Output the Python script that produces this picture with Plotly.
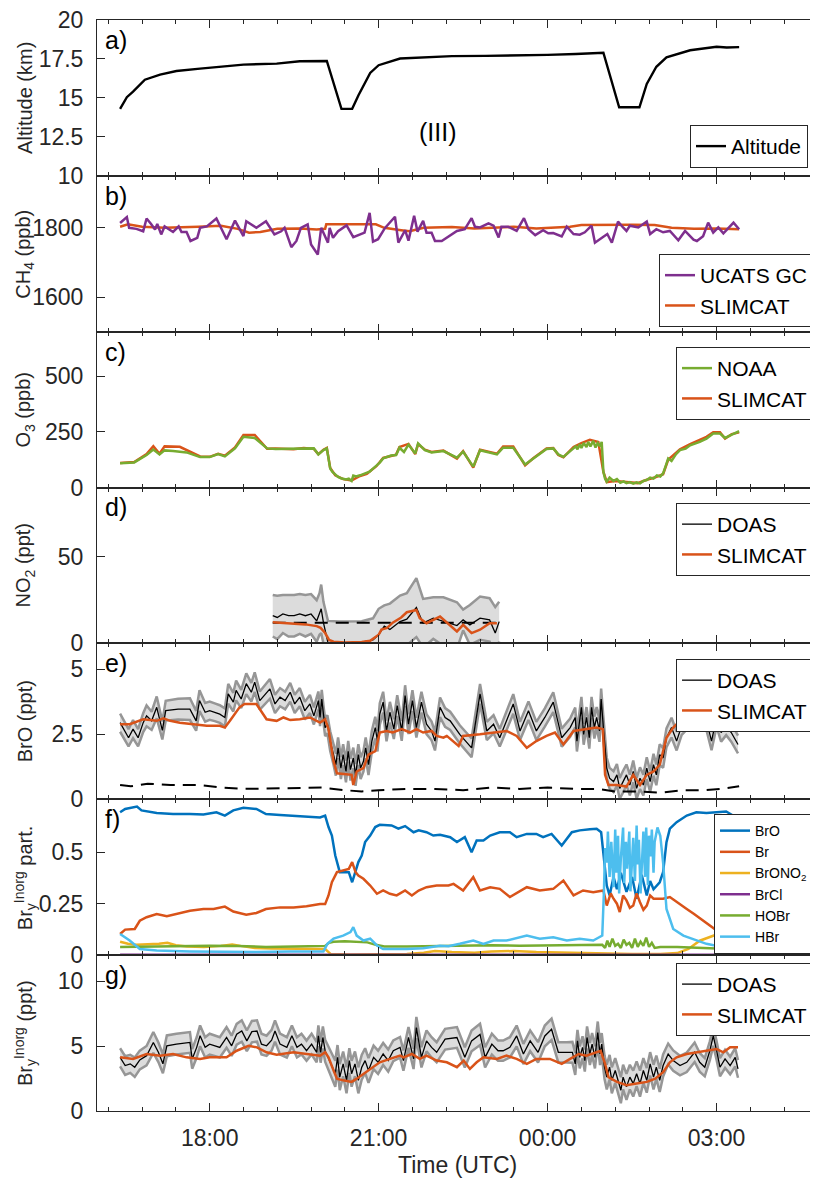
import plotly.graph_objects as go
from plotly.subplots import make_subplots

# ---------------- data (time in hours since 00:00 of day 1; >24 = next day) ----------------
ALT_T = [16.41, 16.53, 16.64, 16.85, 17.12, 17.41, 17.83, 18.13, 18.6, 19.19, 19.6, 20.08, 20.34, 20.53, 20.64,
         20.85, 21.0, 21.38, 21.8, 22.3, 22.9, 23.5, 24.0, 24.5, 24.99, 25.27, 25.63, 25.76, 25.93, 26.11, 26.53,
         27.0, 27.18, 27.4]
ALT_V = [14.3, 15.05, 15.4, 16.17, 16.5, 16.73, 16.88, 16.99, 17.14, 17.2, 17.35, 17.37, 14.3, 14.3, 15.16,
         16.6, 17.1, 17.53, 17.62, 17.68, 17.7, 17.72, 17.76, 17.82, 17.9, 14.4, 14.4, 15.9, 17.0, 17.6, 18.06,
         18.28, 18.24, 18.26]

UC_T = [16.41, 16.53, 16.57, 16.7, 16.82, 16.88, 16.96, 17.03, 17.07, 17.14, 17.2, 17.29, 17.35, 17.45, 17.5,
        17.59, 17.66, 17.78, 17.83, 17.95, 18.12, 18.3, 18.45, 18.6, 18.65, 18.83, 19.0, 19.15, 19.27, 19.33,
        19.45, 19.54, 19.62, 19.74, 19.8, 19.92, 19.98, 20.1, 20.13, 20.19, 20.28, 20.43, 20.55, 20.75, 20.84,
        20.9, 20.99, 21.11, 21.29, 21.35, 21.47, 21.53, 21.63, 21.69, 21.79, 21.85, 21.94, 22.0, 22.12, 22.39,
        22.53, 22.65, 22.71, 22.8, 22.95, 23.04, 23.13, 23.18, 23.3, 23.45, 23.58, 23.66, 23.78, 23.92, 24.01,
        24.1, 24.25, 24.34, 24.46, 24.57, 24.66, 24.78, 24.84, 24.99, 25.06, 25.14, 25.25, 25.34, 25.4, 25.46,
        25.61, 25.76, 25.82, 25.93, 26.05, 26.17, 26.32, 26.44, 26.59, 26.65, 26.76, 26.85, 26.94, 27.03, 27.12,
        27.3, 27.4]
UC_V = [1814, 1831, 1800, 1797, 1790, 1827, 1811, 1795, 1811, 1781, 1804, 1795, 1788, 1804, 1788,
        1788, 1762, 1771, 1800, 1804, 1827, 1767, 1821, 1776, 1819, 1800, 1819, 1781, 1790, 1800,
        1744, 1762, 1800, 1810, 1752, 1723, 1800, 1757, 1800, 1771, 1790, 1807, 1773, 1786, 1843,
        1760, 1767, 1799, 1832, 1757, 1793, 1763, 1835, 1789, 1820, 1786, 1786, 1762, 1762, 1791,
        1796, 1828, 1803, 1801, 1813, 1806, 1772, 1803, 1803, 1791, 1828, 1796, 1779, 1793, 1784,
        1785, 1775, 1803, 1782, 1780, 1787, 1806, 1757, 1774, 1782, 1757, 1818, 1801, 1791, 1806,
        1801, 1818, 1782, 1796, 1787, 1791, 1764, 1791, 1766, 1762, 1776, 1815, 1786, 1801, 1784,
        1815, 1796]

SC_CH4_T = [16.41, 16.55, 16.8, 17.2, 17.8, 18.2, 18.5, 18.7, 18.9, 19.2, 19.6, 19.9, 20.05, 20.07, 20.95, 21.1,
            21.4, 21.55, 21.8, 22.3, 22.7, 23.1, 23.4, 23.8, 24.1, 24.4, 24.6, 25.0, 25.5, 25.9, 26.2, 26.6,
            27.0, 27.4]
SC_CH4_V = [1803, 1810, 1803, 1800, 1803, 1806, 1797, 1786, 1788, 1797, 1798, 1795, 1797, 1810, 1810, 1800,
            1793, 1790, 1800, 1802, 1798, 1800, 1803, 1798, 1800, 1803, 1808, 1809, 1809, 1808, 1800, 1797,
            1798, 1796]

O3_T = [16.41, 16.66, 16.88, 17.0, 17.11, 17.2, 17.35, 17.59, 17.83, 18.0,
        18.15, 18.27, 18.45, 18.6, 18.8, 19.02, 19.17, 19.49, 19.67, 19.85,
        19.93, 20.02, 20.08, 20.14, 20.18, 20.23, 20.28, 20.33, 20.37, 20.42,
        20.47, 20.52, 20.55, 20.6, 20.67, 20.72, 20.79, 20.84, 20.9, 20.96,
        21.02, 21.08, 21.15, 21.22, 21.31, 21.37, 21.45, 21.53, 21.65, 21.7,
        21.82, 21.94, 22.15, 22.39, 22.5, 22.68, 22.8, 23.1, 23.21, 23.39,
        23.6, 23.75, 23.98, 24.1, 24.19, 24.28, 24.46, 24.5, 24.53, 24.57,
        24.6, 24.64, 24.69, 24.72, 24.76, 24.81, 24.85, 24.89, 24.93, 24.96,
        24.99, 25.02, 25.05, 25.1, 25.17, 25.23, 25.29, 25.35, 25.4, 25.46,
        25.52, 25.58, 25.64, 25.7, 25.76, 25.82, 25.88, 25.94, 26.0, 26.05,
        26.1, 26.14, 26.2, 26.28, 26.35, 26.45, 26.53, 26.7, 26.82, 26.94,
        27.06, 27.15, 27.27, 27.4]
O3_V = [109, 113, 146, 171, 149, 167, 164, 158, 137, 137,
        150, 140, 176, 228, 223, 176, 173, 173, 176, 176,
        149, 168, 176, 86, 70, 57, 48, 42, 39, 36,
        40, 30, 54, 50, 55, 60, 64, 72, 85, 98,
        112, 131, 138, 144, 146, 179, 160, 193, 153, 198,
        168, 158, 164, 134, 161, 94, 168, 149, 179, 179,
        104, 131, 173, 176, 149, 138, 179, 185, 172, 195,
        178, 200, 182, 205, 185, 210, 180, 200, 185, 205,
        71, 40, 27, 45, 30, 38, 22, 28, 20, 25,
        18, 24, 19, 30, 34, 45, 40, 55, 50, 64,
        100, 131, 120, 150, 168, 175, 190, 205, 220, 243,
        243, 223, 238, 253]

SC_O3_T = [16.41, 16.66, 16.88, 17.0, 17.11, 17.2, 17.47, 17.83, 18.0, 18.15, 18.27, 18.45, 18.6, 18.8, 19.02,
           19.17, 19.49, 19.67, 19.85, 19.93, 20.02, 20.08, 20.14, 20.23, 20.37, 20.52, 20.67, 20.79, 20.96,
           21.08, 21.31, 21.37, 21.53, 21.65, 21.7, 21.82, 21.94, 22.15, 22.39, 22.5, 22.68, 22.8, 23.1, 23.21,
           23.39, 23.6, 23.75, 23.98, 24.1, 24.19, 24.28, 24.46, 24.6, 24.75, 24.9, 24.99, 25.05, 25.2, 25.4,
           25.6, 25.76, 25.9, 26.05, 26.14, 26.35, 26.53, 26.82, 26.94, 27.06, 27.15, 27.27, 27.4]
SC_O3_V = [110, 115, 150, 186, 152, 185, 183, 140, 138, 152, 143, 180, 236, 236, 174,
           176, 172, 178, 174, 150, 170, 178, 88, 55, 38, 32, 52, 62, 96,
           133, 148, 182, 196, 150, 195, 170, 160, 166, 130, 164, 90, 170, 152, 185,
           185, 100, 133, 176, 178, 146, 136, 182, 200, 215, 205, 70, 25, 30, 25,
           20, 35, 45, 60, 125, 172, 195, 228, 248, 248, 220, 240, 248]

NO2_T = [19.12, 19.2, 19.3, 19.4, 19.5, 19.6, 19.7, 19.8, 19.9, 19.95, 19.98, 20.02, 20.1, 20.3, 20.5, 20.7,
         20.9, 21.0, 21.1, 21.2, 21.38, 21.5, 21.67, 21.79, 21.97, 22.15, 22.39, 22.5, 22.62, 22.8, 22.97,
         23.07, 23.14]
NO2_V = [16, 15, 17, 16, 16, 17, 16, 17, 13, 17, 20, 12, 0.5, 0.2, 0.3, 0.8,
         2, 5, 10, 8, 12.6, 14, 20.7, 11.7, 14.6, 12.6, 10.3, 13.6, 10.7, 14.6, 13.6,
         6, 12.6]
NO2_E = [12, 12.5, 11, 12, 12, 11.5, 12, 11.5, 12, 12, 14, 12, 12.5, 12.4, 12.3, 12,
         12.5, 15, 12, 15, 15, 15, 17, 14, 12, 14, 13.5, 6, 11.5, 12.5, 12.5,
         15, 11.5]
SC_NO2_T = [19.12, 19.3, 19.5, 19.7, 19.9, 19.97, 20.05, 20.12, 20.2, 20.4, 20.7, 20.85, 21.0, 21.05, 21.15,
            21.25, 21.4, 21.5, 21.67, 21.73, 21.85, 22.09, 22.39, 22.5, 22.65, 22.8, 22.97, 23.1]
SC_NO2_V = [12.3, 12, 11.5, 11, 10, 9, 6, 2, 1, 0.6, 0.8, 1.5, 5, 8, 9,
            12, 15, 18, 19.3, 14.6, 11.7, 15.5, 6.9, 10.7, 6, 7.9, 11.7, 11.7]
NO2_DL_T = [19.12, 23.14]
NO2_DL_V = [12, 12]

BRO_T = [16.41, 16.56, 16.64, 16.73, 16.82, 16.88, 16.97, 17.06, 17.16, 17.22,
         17.44, 17.65, 17.76, 17.82, 17.92, 18.0, 18.09, 18.18, 18.27, 18.33,
         18.42, 18.47, 18.56, 18.65, 18.74, 18.8, 18.89, 18.96, 19.07, 19.16,
         19.25, 19.34, 19.43, 19.51, 19.6, 19.69, 19.78, 19.85, 19.93, 19.96,
         19.99, 20.02, 20.05, 20.09, 20.14, 20.2, 20.24, 20.28, 20.33, 20.37,
         20.42, 20.46, 20.5, 20.55, 20.59, 20.64, 20.68, 20.73, 20.77, 20.82,
         20.88, 20.94, 20.98, 21.02, 21.08, 21.14, 21.2, 21.27, 21.33, 21.41,
         21.47, 21.53, 21.6, 21.67, 21.76, 21.85, 21.94, 22.0, 22.09, 22.18,
         22.27, 22.44, 22.65, 22.8, 22.92, 23.04, 23.15, 23.39, 23.51, 23.66,
         23.8, 23.95, 24.1, 24.25, 24.4, 24.49, 24.52, 24.56, 24.6, 24.64,
         24.69, 24.74, 24.78, 24.83, 24.87, 24.92, 24.95, 24.99, 25.05, 25.1,
         25.17, 25.23, 25.28, 25.34, 25.4, 25.46, 25.52, 25.58, 25.64, 25.7,
         25.76, 25.82, 25.88, 25.93, 25.99, 26.05, 26.11, 26.2, 26.29, 26.38,
         26.49, 26.61, 26.73, 26.82, 26.91, 27.0, 27.08, 27.17, 27.26, 27.38]
BRO_V = [2.95, 2.37, 2.7, 2.37, 2.95, 3.21, 3.02, 3.54, 2.65, 3.41,
         3.47, 3.47, 3.02, 3.8, 3.35, 3.41, 3.35, 3.28, 3.15, 4.06,
         3.74, 4.19, 3.86, 4.45, 4.12, 4.51, 3.8, 3.99, 4.25, 3.67,
         3.93, 3.8, 4.12, 3.67, 3.93, 3.41, 3.67, 3.21, 3.8, 3.15,
         3.86, 3.28, 2.76, 2.89, 2.24, 1.72, 1.33, 1.98, 1.2, 1.72,
         1.07, 1.85, 1.14, 1.59, 0.94, 1.72, 1.2, 1.46, 1.98, 1.33,
         2.24, 2.76, 2.24, 3.28, 3.74, 2.63, 3.35, 2.7, 3.61, 2.63,
         3.99, 2.89, 3.8, 2.76, 3.74, 2.89, 2.63, 2.24, 3.54, 3.15,
         3.02, 2.5, 1.98, 4.06, 2.63, 2.89, 2.37, 3.67, 2.63, 3.41,
         2.63, 3.15, 3.74, 2.37, 2.76, 3.15, 2.24, 2.89, 3.54, 2.5,
         3.15, 2.37, 3.54, 2.76, 3.15, 2.63, 3.86, 2.76, 1.2, 0.81,
         0.68, 0.94, 0.42, 0.68, 0.94, 0.55, 1.07, 0.42, 0.81, 0.55,
         1.2, 0.68, 1.33, 0.94, 1.72, 1.59, 2.37, 2.76, 2.24, 2.83,
         3.08, 3.02, 3.99, 3.02, 2.24, 3.15, 2.57, 2.83, 2.57, 2.11]
BRO_E = [0.35, 0.33, 0.35, 0.33, 0.36, 0.4, 0.35, 0.42, 0.35, 0.38,
         0.4, 0.42, 0.38, 0.4, 0.36, 0.35, 0.34, 0.34, 0.35, 0.38,
         0.36, 0.38, 0.35, 0.4, 0.36, 0.38, 0.35, 0.36, 0.38, 0.35,
         0.35, 0.34, 0.36, 0.35, 0.35, 0.34, 0.35, 0.33, 0.35, 0.33,
         0.35, 0.33, 0.33, 0.35, 0.38, 0.4, 0.42, 0.4, 0.42, 0.4,
         0.42, 0.4, 0.42, 0.4, 0.42, 0.4, 0.42, 0.4, 0.4, 0.4,
         0.4, 0.42, 0.4, 0.42, 0.4, 0.4, 0.4, 0.38, 0.4, 0.38,
         0.4, 0.38, 0.4, 0.38, 0.4, 0.38, 0.36, 0.36, 0.38, 0.36,
         0.35, 0.35, 0.36, 0.38, 0.35, 0.35, 0.34, 0.38, 0.35, 0.36,
         0.35, 0.35, 0.38, 0.35, 0.35, 0.38, 0.4, 0.38, 0.4, 0.4,
         0.4, 0.42, 0.4, 0.42, 0.4, 0.42, 0.4, 0.4, 0.4, 0.4,
         0.4, 0.42, 0.4, 0.42, 0.4, 0.4, 0.42, 0.4, 0.42, 0.4,
         0.42, 0.4, 0.42, 0.4, 0.4, 0.38, 0.36, 0.38, 0.36, 0.35,
         0.35, 0.36, 0.4, 0.36, 0.35, 0.36, 0.35, 0.36, 0.35, 0.34]
SC_BRO_T = [16.41, 16.58, 16.82, 17.06, 17.18, 17.3, 17.47, 17.7, 17.95, 18.18, 18.27, 18.36, 18.53, 18.62,
            18.83, 19.01, 19.19, 19.31, 19.43, 19.6, 19.78, 19.96, 20.05, 20.11, 20.2, 20.26, 20.37, 20.52,
            20.55, 20.61, 20.73, 20.82, 20.94, 21.02, 21.14, 21.25, 21.41, 21.56, 21.67, 21.79, 21.94, 22.03,
            22.15, 22.21, 22.42, 22.5, 22.8, 23.1, 23.27, 23.45, 23.63, 23.8, 23.98, 24.13, 24.28, 24.46,
            24.69, 24.87, 24.98, 25.02, 25.08, 25.23, 25.4, 25.52, 25.64, 25.76, 25.88, 25.99, 26.11, 26.23,
            26.35, 26.53, 26.8, 27.0, 27.2, 27.4]
SC_BRO_V = [2.89, 2.89, 3.08, 3.02, 3.12, 3.02, 2.95, 2.89, 2.83, 2.83, 2.76, 3.02, 3.54, 3.67,
            3.67, 3.08, 3.02, 3.15, 3.05, 3.08, 3.15, 2.95, 3.08, 2.7, 1.46, 1.0, 0.97, 0.94,
            0.55, 1.07, 1.2, 1.72, 1.85, 2.57, 2.63, 2.57, 2.7, 2.57, 2.7, 2.57, 2.63, 2.44,
            2.37, 2.44, 2.05, 2.44, 2.5, 2.57, 2.63, 2.44, 1.98, 2.24, 2.44, 2.57, 2.11, 2.63,
            2.7, 2.76, 2.7, 0.94, 0.55, 0.55, 0.49, 0.94, 0.55, 0.94, 1.07, 1.33, 2.37, 2.76,
            3.02, 3.15, 3.2, 3.1, 3.3, 3.1]
BRO_DL_T = [16.41, 16.6, 16.9, 17.3, 17.8, 18.2, 18.6, 19.0, 19.5, 20.0, 20.4, 20.7, 21.0, 21.5, 22.0, 22.5,
            23.0, 23.5, 24.0, 24.5, 24.9, 25.2, 25.6, 26.0, 26.4, 26.8, 27.1, 27.4]
BRO_DL_V = [0.55, 0.5, 0.6, 0.55, 0.55, 0.45, 0.4, 0.42, 0.45, 0.45, 0.35, 0.3, 0.35, 0.4, 0.4, 0.35,
            0.45, 0.4, 0.45, 0.4, 0.4, 0.3, 0.3, 0.25, 0.35, 0.35, 0.4, 0.5]

F_BRO_T = [16.41, 16.5, 16.71, 16.79, 17.06, 17.35, 17.65, 17.89, 18.12, 18.27, 18.42, 18.6, 18.83, 19.0, 19.25,
           19.49, 19.72, 19.96, 20.05, 20.11, 20.17, 20.23, 20.31, 20.38, 20.47, 20.53, 20.59, 20.64, 20.7, 20.76,
           20.85, 20.94, 21.02, 21.14, 21.23, 21.35, 21.47, 21.62, 21.71, 21.85, 21.97, 22.09, 22.27, 22.39, 22.53,
           22.65, 22.74, 22.86, 22.98, 23.15, 23.33, 23.45, 23.63, 23.8, 23.92, 24.07, 24.25, 24.43, 24.57, 24.75,
           24.87, 24.95, 25.0, 25.05, 25.1, 25.17, 25.23, 25.3, 25.4, 25.5, 25.58, 25.67, 25.76, 25.82, 25.88,
           25.99, 26.05, 26.11, 26.17, 26.29, 26.47, 26.64, 26.82, 27.0, 27.17, 27.29, 27.38]
F_BRO_V = [0.694, 0.71, 0.722, 0.703, 0.69, 0.685, 0.685, 0.683, 0.694, 0.678, 0.703, 0.716, 0.71, 0.685, 0.681,
           0.678, 0.675, 0.669, 0.678, 0.622, 0.581, 0.484, 0.403, 0.403, 0.403, 0.354, 0.403, 0.452, 0.484, 0.549,
           0.581, 0.622, 0.633, 0.633, 0.63, 0.614, 0.627, 0.597, 0.606, 0.597, 0.581, 0.585, 0.573, 0.549, 0.573,
           0.5, 0.557, 0.557, 0.581, 0.597, 0.597, 0.573, 0.589, 0.589, 0.573, 0.589, 0.532, 0.597, 0.606, 0.611,
           0.614, 0.597, 0.468, 0.338, 0.29, 0.38, 0.32, 0.4, 0.307, 0.38, 0.274, 0.39, 0.29, 0.36, 0.32,
           0.354, 0.403, 0.549, 0.614, 0.646, 0.678, 0.694, 0.69, 0.694, 0.698, 0.678, 0.678]
F_BR_T = [16.41, 16.5, 16.67, 16.76, 16.88, 17.06, 17.24, 17.41, 17.65, 17.89, 18.07, 18.27, 18.42, 18.65, 18.83,
          19.0, 19.25, 19.49, 19.72, 19.96, 20.05, 20.11, 20.17, 20.26, 20.38, 20.47, 20.53, 20.59, 20.64, 20.73,
          20.85, 20.97, 21.08, 21.2, 21.32, 21.47, 21.59, 21.71, 21.85, 22.03, 22.24, 22.33, 22.5, 22.68, 22.8,
          22.98, 23.15, 23.33, 23.63, 23.86, 24.1, 24.28, 24.46, 24.63, 24.81, 24.99, 25.05, 25.12, 25.17, 25.23,
          25.28, 25.34, 25.4, 25.46, 25.52, 25.58, 25.64, 25.7, 25.76, 25.82, 25.88, 26.05, 26.17, 26.29, 26.47,
          26.6, 26.9, 27.1, 27.4]
F_BR_V = [0.103, 0.124, 0.127, 0.167, 0.184, 0.2, 0.189, 0.2, 0.216, 0.224, 0.224, 0.236, 0.212, 0.196, 0.205,
          0.224, 0.232, 0.232, 0.237, 0.248, 0.248, 0.29, 0.354, 0.403, 0.411, 0.419, 0.452, 0.403, 0.387, 0.371,
          0.338, 0.298, 0.314, 0.298, 0.29, 0.314, 0.29, 0.314, 0.33, 0.338, 0.338, 0.346, 0.314, 0.379, 0.314,
          0.33, 0.322, 0.282, 0.33, 0.314, 0.322, 0.362, 0.29, 0.314, 0.306, 0.314, 0.241, 0.3, 0.274, 0.25,
          0.209, 0.29, 0.266, 0.23, 0.241, 0.3, 0.257, 0.22, 0.241, 0.29, 0.274, 0.274, 0.282, 0.257, 0.224,
          0.2, 0.14, 0.1, 0.08]
F_BRONO2_T = [16.41, 16.55, 16.7, 16.9, 17.1, 17.25, 17.4, 17.6, 17.9, 18.2, 18.4, 18.55, 18.8, 19.1, 19.5,
              19.9, 20.05, 20.15, 20.5, 21.0, 21.5, 21.8, 22.0, 22.3, 22.7, 23.0, 23.4, 23.8, 24.2, 24.6,
              25.0, 25.5, 26.0, 26.3, 26.5, 26.7, 27.0, 27.4]
F_BRONO2_V = [0.065, 0.055, 0.05, 0.052, 0.055, 0.06, 0.048, 0.042, 0.04, 0.045, 0.052, 0.045, 0.035, 0.032, 0.03,
              0.03, 0.03, 0.005, 0.003, 0.004, 0.006, 0.012, 0.02, 0.015, 0.012, 0.018, 0.02, 0.015, 0.012, 0.01,
              0.008, 0.005, 0.005, 0.01, 0.03, 0.07, 0.1, 0.11]
F_BRCL_T = [16.41, 20.0, 24.0, 27.4]
F_BRCL_V = [0.002, 0.002, 0.002, 0.002]
F_HOBR_T = [16.41, 17.0, 17.5, 18.0, 18.5, 19.0, 19.5, 20.05, 20.12, 20.2, 20.4, 20.6, 20.8, 20.95, 21.1,
            21.5, 22.0, 22.5, 23.0, 23.5, 24.0, 24.5, 24.97, 25.02, 25.06, 25.1, 25.15, 25.2, 25.25, 25.3,
            25.35, 25.4, 25.45, 25.5, 25.55, 25.6, 25.65, 25.7, 25.75, 25.8, 25.85, 25.9, 26.0, 26.3, 26.7,
            27.0, 27.4]
F_HOBR_V = [0.04, 0.042, 0.044, 0.046, 0.044, 0.04, 0.042, 0.045, 0.06, 0.065, 0.068, 0.066, 0.062, 0.05, 0.042,
            0.042, 0.044, 0.046, 0.048, 0.046, 0.047, 0.048, 0.05, 0.035, 0.07, 0.04, 0.08, 0.045, 0.055, 0.035,
            0.075, 0.05, 0.06, 0.035, 0.08, 0.04, 0.065, 0.045, 0.085, 0.04, 0.06, 0.035, 0.04, 0.04, 0.035,
            0.032, 0.03]
F_HBR_T = [16.41, 16.58, 16.76, 17.06, 17.65, 18.24, 18.83, 19.43, 20.02, 20.09, 20.2, 20.37, 20.5, 20.55, 20.61,
           20.73, 20.85, 20.97, 21.08, 21.5, 21.79, 22.09, 22.24, 22.44, 22.68, 22.86, 23.04, 23.27, 23.63, 23.86,
           24.1, 24.34, 24.57, 24.81, 24.97,
           25.0, 25.02, 25.05, 25.07, 25.1, 25.13, 25.14, 25.17, 25.2, 25.22, 25.25, 25.27, 25.3, 25.34, 25.36,
           25.39, 25.41, 25.45, 25.47, 25.5, 25.52, 25.55, 25.58, 25.6, 25.62, 25.65, 25.68, 25.7, 25.73, 25.75,
           25.78, 25.8, 25.83, 25.85, 25.88, 25.9,
           25.95, 26.0, 26.05, 26.11, 26.23, 26.41, 26.82, 27.41]
F_HBR_V = [0.103, 0.071, 0.03, 0.022, 0.018, 0.015, 0.015, 0.018, 0.018, 0.055, 0.08, 0.095, 0.112, 0.136, 0.095,
           0.071, 0.08, 0.047, 0.03, 0.03, 0.034, 0.045, 0.043, 0.055, 0.071, 0.055, 0.071, 0.071, 0.095, 0.08,
           0.087, 0.071, 0.08, 0.071, 0.095,
           0.31, 0.52, 0.45, 0.6, 0.38, 0.55, 0.5, 0.33, 0.61, 0.4, 0.58, 0.3, 0.47, 0.62, 0.35,
           0.55, 0.42, 0.6, 0.31, 0.5, 0.57, 0.36, 0.63, 0.44, 0.56, 0.3, 0.52, 0.6, 0.38, 0.62,
           0.34, 0.58, 0.48, 0.61, 0.4, 0.55,
           0.62, 0.58, 0.45, 0.224, 0.127, 0.095, 0.055, 0.022]

BRY_T = [16.41, 16.5, 16.59, 16.67, 16.76, 16.88, 17.0, 17.09, 17.17, 17.24,
         17.41, 17.65, 17.69, 17.77, 17.83, 17.92, 18.0, 18.18, 18.3, 18.39,
         18.48, 18.57, 18.66, 18.75, 18.84, 18.92, 19.01, 19.1, 19.16, 19.25,
         19.37, 19.46, 19.55, 19.63, 19.72, 19.81, 19.9, 19.93, 19.97, 20.01,
         20.05, 20.11, 20.17, 20.23, 20.27, 20.31, 20.37, 20.43, 20.48, 20.52,
         20.58, 20.64, 20.7, 20.76, 20.82, 20.91, 20.99, 21.08, 21.17, 21.26,
         21.38, 21.44, 21.53, 21.62, 21.67, 21.76, 21.85, 21.94, 22.03, 22.18,
         22.39, 22.53, 22.65, 22.8, 22.89, 23.01, 23.12, 23.21, 23.33, 23.45,
         23.57, 23.69, 23.83, 23.95, 24.07, 24.19, 24.34, 24.44, 24.49, 24.53,
         24.57, 24.62, 24.66, 24.7, 24.75, 24.79, 24.84, 24.89, 24.93, 24.96,
         25.01, 25.05, 25.1, 25.14, 25.2, 25.26, 25.3, 25.34, 25.4, 25.46,
         25.52, 25.58, 25.64, 25.7, 25.76, 25.82, 25.88, 25.93, 25.99, 26.05,
         26.14, 26.23, 26.35, 26.47, 26.61, 26.7, 26.79, 26.88, 26.94, 27.0,
         27.06, 27.15, 27.24, 27.33, 27.38]
BRY_V = [4.13, 3.5, 3.63, 3.37, 3.93, 4.26, 5.28, 4.52, 3.63, 5.02,
         5.15, 5.28, 4.01, 4.9, 5.79, 4.9, 5.15, 4.9, 5.66, 5.02,
         5.91, 6.16, 5.4, 6.11, 6.16, 5.15, 5.02, 5.45, 6.16, 5.15,
         4.9, 5.79, 4.9, 5.15, 4.64, 5.15, 4.52, 5.79, 4.52, 5.66,
         4.64, 4.01, 3.37, 2.87, 4.13, 2.61, 3.63, 2.36, 3.88, 2.87,
         3.63, 2.36, 3.37, 3.88, 3.12, 4.13, 3.75, 4.39, 3.88, 4.64,
         4.9, 3.88, 5.66, 4.01, 6.42, 4.13, 5.4, 4.9, 4.52, 5.53,
         5.66, 4.13, 5.4, 5.9, 4.13, 5.15, 4.64, 4.64, 4.9, 5.78,
         4.39, 5.4, 4.52, 5.78, 6.29, 4.52, 4.52, 4.52, 3.63, 5.4,
         4.13, 4.9, 3.88, 5.66, 4.39, 5.15, 4.13, 6.04, 4.39, 5.15,
         3.37, 2.61, 3.37, 2.36, 3.12, 2.11, 1.6, 2.61, 1.86, 2.61,
         2.11, 2.87, 2.11, 3.12, 2.36, 3.63, 2.61, 3.37, 2.36, 3.5,
         4.39, 3.88, 3.5, 3.75, 4.52, 3.75, 3.37, 4.64, 5.78, 4.64,
         3.37, 4.01, 3.5, 4.13, 3.24]
BRY_E = [0.7, 0.72, 0.7, 0.75, 0.72, 0.75, 0.8, 0.75, 0.72, 0.8,
         0.8, 0.8, 0.75, 0.78, 0.8, 0.78, 0.8, 0.78, 0.8, 0.78,
         0.8, 0.82, 0.8, 0.82, 0.82, 0.8, 0.78, 0.8, 0.82, 0.8,
         0.78, 0.8, 0.78, 0.8, 0.78, 0.8, 0.78, 0.8, 0.8, 0.85,
         0.85, 0.9, 0.95, 1.0, 0.95, 1.0, 0.95, 1.0, 0.95, 1.0,
         0.95, 1.0, 0.95, 0.95, 0.95, 0.9, 0.9, 0.85, 0.85, 0.8,
         0.8, 0.78, 0.8, 0.78, 0.82, 0.78, 0.8, 0.78, 0.78, 0.8,
         0.8, 0.78, 0.8, 0.82, 0.78, 0.8, 0.78, 0.78, 0.78, 0.8,
         0.78, 0.8, 0.78, 0.8, 0.82, 0.78, 0.78, 0.8, 0.85, 0.85,
         0.85, 0.85, 0.85, 0.85, 0.85, 0.85, 0.85, 0.85, 0.85, 0.85,
         0.9, 0.95, 0.95, 1.0, 0.95, 1.0, 1.0, 0.95, 1.0, 0.95,
         1.0, 0.95, 1.0, 0.95, 0.95, 0.9, 0.95, 0.9, 0.9, 0.85,
         0.8, 0.78, 0.75, 0.75, 0.75, 0.72, 0.7, 0.72, 0.75, 0.72,
         0.7, 0.7, 0.68, 0.7, 0.68]
SC_BRY_T = [16.41, 16.64, 16.88, 17.12, 17.35, 17.59, 17.83, 18.0, 18.3, 18.48, 18.69, 18.84, 19.01, 19.19,
            19.49, 19.79, 19.96, 20.05, 20.11, 20.2, 20.26, 20.37, 20.52, 20.61, 20.73, 20.85, 21.02, 21.2,
            21.38, 21.44, 21.59, 21.73, 21.85, 22.03, 22.21, 22.39, 22.51, 22.62, 22.74, 22.86, 23.1, 23.27,
            23.45, 23.63, 23.8, 24.04, 24.25, 24.4, 24.55, 24.69, 24.87, 24.94, 25.02, 25.08, 25.23, 25.4,
            25.58, 25.76, 25.91, 26.05, 26.17, 26.29, 26.47, 26.64, 26.82, 27.0, 27.12, 27.24, 27.38]
SC_BRY_V = [4.13, 4.01, 4.39, 4.26, 4.39, 4.13, 4.01, 4.13, 4.13, 4.64, 5.02, 4.9, 4.52, 4.34,
            4.52, 4.39, 4.26, 4.52, 4.13, 3.12, 2.49, 2.36, 2.24, 2.49, 2.87, 3.24, 3.75, 4.01,
            4.26, 4.13, 4.39, 4.01, 4.26, 3.88, 3.75, 3.37, 3.88, 3.24, 3.75, 4.13, 4.01, 4.26,
            4.01, 3.63, 4.01, 4.01, 3.63, 4.01, 4.39, 4.26, 4.52, 4.64, 3.63, 2.61, 2.24, 1.99,
            2.11, 2.24, 2.49, 2.99, 3.75, 4.13, 4.39, 4.52, 4.64, 4.77, 4.52, 4.9, 4.9]

X_TICKS = [18, 21, 24, 27]
X_TICKTEXT = ["18:00", "21:00", "00:00", "03:00"]

for a, b in [(ALT_T, ALT_V), (UC_T, UC_V), (SC_CH4_T, SC_CH4_V), (O3_T, O3_V), (SC_O3_T, SC_O3_V),
             (NO2_T, NO2_V), (NO2_T, NO2_E), (SC_NO2_T, SC_NO2_V), (BRO_T, BRO_V), (BRO_T, BRO_E),
             (SC_BRO_T, SC_BRO_V), (BRO_DL_T, BRO_DL_V), (F_BRO_T, F_BRO_V), (F_BR_T, F_BR_V),
             (F_BRONO2_T, F_BRONO2_V), (F_HOBR_T, F_HOBR_V), (F_HBR_T, F_HBR_V), (BRY_T, BRY_V),
             (BRY_T, BRY_E), (SC_BRY_T, SC_BRY_V)]:
    assert len(a) == len(b), (len(a), len(b))

# ---------------- styling ----------------
FONT = "Liberation Sans, Arial, sans-serif"
AX = "#262626"
BLUE, ORANGE, YELLOW, PURPLE, GREEN, CYAN = "#0072BD", "#D95319", "#EDB120", "#7E2F8E", "#77AC30", "#4DBEEE"
BAND_LINE, BAND_FILL = "#969696", "#dcdcdc"

fig = make_subplots(rows=7, cols=1, shared_xaxes=True, vertical_spacing=0)


def line(row, t, v, color, width, name=None, legend=None, dash=None, rank=1000):
    fig.add_trace(go.Scatter(x=t, y=v, mode="lines", name=name,
                             line=dict(color=color, width=width, dash=dash),
                             showlegend=name is not None, legend=legend, legendrank=rank,
                             hoverinfo="skip"), row=row, col=1)


def band(row, t, v, e):
    up = [a + b for a, b in zip(v, e)]
    lo = [a - b for a, b in zip(v, e)]
    fig.add_trace(go.Scatter(x=t, y=up, mode="lines", line=dict(color=BAND_LINE, width=2.5),
                             showlegend=False, hoverinfo="skip"), row=row, col=1)
    fig.add_trace(go.Scatter(x=t, y=lo, mode="lines", line=dict(color=BAND_LINE, width=2.5),
                             fill="tonexty", fillcolor=BAND_FILL, showlegend=False, hoverinfo="skip"),
                  row=row, col=1)


# a) altitude
line(1, ALT_T, ALT_V, "black", 2.4, "Altitude", "legend")
# b) CH4
line(2, SC_CH4_T, SC_CH4_V, ORANGE, 2.5, "SLIMCAT", "legend2", rank=2)
line(2, UC_T, UC_V, PURPLE, 2.5, "UCATS GC", "legend2", rank=1)
# c) O3
line(3, SC_O3_T, SC_O3_V, ORANGE, 2.5, "SLIMCAT", "legend3", rank=2)
line(3, O3_T, O3_V, GREEN, 2.5, "NOAA", "legend3", rank=1)
# d) NO2
band(4, NO2_T, NO2_V, NO2_E)
line(4, NO2_T, NO2_V, "black", 1.3, "DOAS", "legend4", rank=1)
line(4, NO2_DL_T, NO2_DL_V, "black", 2, dash="13px,8px")
line(4, SC_NO2_T, SC_NO2_V, ORANGE, 2.5, "SLIMCAT", "legend4", rank=2)
# e) BrO
band(5, BRO_T, BRO_V, BRO_E)
line(5, BRO_T, BRO_V, "black", 1.3, "DOAS", "legend5", rank=1)
line(5, SC_BRO_T, SC_BRO_V, ORANGE, 2.5, "SLIMCAT", "legend5", rank=2)
line(5, BRO_DL_T, BRO_DL_V, "black", 2, dash="13px,8px")
# f) partitioning
line(6, F_BRO_T, F_BRO_V, BLUE, 2.5, "BrO", "legend6", rank=1)
line(6, F_BR_T, F_BR_V, ORANGE, 2.5, "Br", "legend6", rank=2)
line(6, F_BRONO2_T, F_BRONO2_V, YELLOW, 2.5, "BrONO<sub>2</sub>", "legend6", rank=3)
line(6, F_BRCL_T, F_BRCL_V, PURPLE, 2.5, "BrCl", "legend6", rank=4)
line(6, F_HOBR_T, F_HOBR_V, GREEN, 2.5, "HOBr", "legend6", rank=5)
line(6, F_HBR_T, F_HBR_V, CYAN, 2.5, "HBr", "legend6", rank=6)
# g) Bry
band(7, BRY_T, BRY_V, BRY_E)
line(7, BRY_T, BRY_V, "black", 1.3, "DOAS", "legend7", rank=1)
line(7, SC_BRY_T, SC_BRY_V, ORANGE, 2.5, "SLIMCAT", "legend7", rank=2)

# ---------------- axes ----------------
TICKFONT = dict(family=FONT, size=23, color=AX)
fig.update_xaxes(range=[16, 28.8], tickmode="array", tickvals=X_TICKS, ticktext=X_TICKTEXT,
                 ticks="inside", ticklen=8, tickwidth=1, tickcolor=AX, showline=True, linecolor=AX,
                 linewidth=1, mirror="ticks", showgrid=False, zeroline=False, automargin=False,
                 ticklabeloverflow="allow",
                 minor=dict(tickmode="linear", tick0=0, dtick=0.6, ticks="inside", ticklen=4,
                            tickcolor=AX, showgrid=False),
                 tickfont=TICKFONT)
fig.update_xaxes(showticklabels=True, ticklabelstandoff=6, row=7, col=1)

Y_RANGES = [[10, 20], [1500, 1950], [0, 700], [0, 90], [0, 6], [0, 0.757], [0, 12]]
Y_TICKS = [[10, 12.5, 15, 17.5, 20], [1600, 1800], [0, 250, 500], [0, 50], [0, 2.5, 5], [0, 0.25, 0.5],
           [0, 5, 10]]
Y_TICKTEXT = [["10", "12.5", "15", "17.5", "20"], ["1600", "1800"], ["0", "250", "500"], ["0", "50"],
              ["0", "2.5", "5"], ["0", "0.25", "0.5"], ["0", "5", "10"]]
Y_TITLES = ["Altitude (km)", "CH<sub>4</sub> (ppb)", "O<sub>3</sub> (ppb)", "NO<sub>2</sub> (ppt)",
            "BrO (ppt)", "Br<sub>y</sub><sup>Inorg</sup> part.", "Br<sub>y</sub><sup>Inorg</sup> (ppt)"]
PANEL_LABELS = ["a)", "b)", "c)", "d)", "e)", "f)", "g)"]

for i in range(7):
    fig.update_yaxes(range=Y_RANGES[i], tickmode="array", tickvals=Y_TICKS[i], ticktext=Y_TICKTEXT[i],
                     ticks="inside", ticklen=8, tickwidth=1, tickcolor=AX, showline=True, linecolor=AX,
                     linewidth=1, mirror="ticks", showgrid=False, zeroline=False, automargin=False,
                     ticklabeloverflow="allow", ticklabelstandoff=8, tickfont=TICKFONT, row=i + 1, col=1)
    sfx = "" if i == 0 else str(i + 1)
    fig.add_annotation(text=Y_TITLES[i], textangle=-90, xref="paper", x=-0.0999, xanchor="center",
                       yref=f"y{sfx} domain", y=0.5, yanchor="middle", showarrow=False,
                       font=dict(family=FONT, size=20, color=AX))
    fig.add_annotation(text=PANEL_LABELS[i], xref=f"x{sfx} domain", x=0.008, xanchor="left",
                       yref=f"y{sfx} domain", y=0.975, yanchor="top", showarrow=False,
                       font=dict(family=FONT, size=25, color="black"))

fig.add_annotation(text="(III)", x=22.05, y=12.84, xref="x", yref="y", showarrow=False,
                   font=dict(family=FONT, size=25, color="black"))
fig.add_annotation(text="Time (UTC)", xref="paper", x=0.5, xanchor="center", yref="paper", y=-0.0495,
                   yanchor="middle", showarrow=False, font=dict(family=FONT, size=23, color=AX))

# ---------------- legends ----------------
LEG_POS = [(0.9861, 0.9038), (0.9931, 0.7855), (0.9931, 0.7003), (0.9931, 0.5573), (0.9931, 0.4143),
           (0.9931, 0.2722), (0.9931, 0.1357)]
legends = {}
for i, (lx, ly) in enumerate(LEG_POS):
    key = "legend" if i == 0 else f"legend{i + 1}"
    legends[key] = dict(x=lx, y=ly, xanchor="right", yanchor="top", bgcolor="white",
                        bordercolor=AX, borderwidth=1, tracegroupgap=0,
                        font=dict(family=FONT, size=14 if i == 5 else 21, color="black"))

# The page places the figure 8 px in from the top-left corner, so the figure is
# 8 px smaller than the window and its margins are trimmed by the same amount.
fig.update_layout(width=810, height=1171, margin=dict(l=89, r=0, t=12, b=68, autoexpand=False),
                  paper_bgcolor="white", plot_bgcolor="white", font=dict(family=FONT, color=AX),
                  **legends)

fig.write_html("out.html")
